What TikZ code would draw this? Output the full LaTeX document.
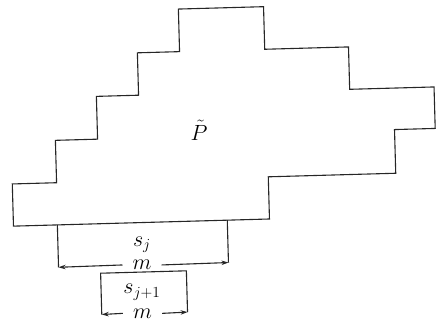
\RequirePackage{fix-cm}
\documentclass[tikz,border=0pt]{standalone}
\usepackage{amsmath}
\usepackage{tikz}
\usetikzlibrary{arrows.meta, calc}

\begin{document}
\begin{tikzpicture}[
  x=1pt, y=-1pt,
  font=\fontsize{22}{26}\selectfont,
  >={Stealth[length=7pt,width=4.5pt]},
  % staircase outline
  outline/.style={draw=black!85, line width=1.1pt, line join=miter},
  % measuring brackets
  bracket/.style={draw=black!85, line width=1.1pt},
  dimarrow/.style={bracket, ->},
  % labels
  lbl/.style={inner sep=1pt},
  widthlbl/.style={inner xsep=10pt, inner ysep=1pt}
]
\useasboundingbox (0,0) rectangle (436,325);

\begin{scope}[rotate around={1.6:(218,160)}]
% === POLYGON ===
\draw[outline] (182.6,8) -- (267.8,8) -- (267.8,50.6) -- (351.6,50.6)
  -- (351.6,93) -- (436,93) -- (436,134.5) -- (395.3,134.5)
  -- (395.3,178.2) -- (267.8,178.2) -- (267.8,220.4) -- (11.7,220.4)
  -- (11.7,178.2) -- (56,178.2) -- (56,135.8) -- (98.2,135.8)
  -- (98.2,93) -- (140.4,93) -- (140.4,50.6) -- (182.6,50.6) -- cycle;
\node[lbl] (ptilde) at (199.8,129.5) {$\tilde{P}$};

% === FIRST BRACKET ===
\coordinate (lt1) at (55.6,220.4);
\coordinate (rt1) at (225.6,220.4);
\coordinate (lb1) at (55.6,262.8);
\coordinate (rb1) at (225.6,262.8);
\node[lbl] (sj) at (139.6,242.9) {$s_j$};
\node[widthlbl] (m1) at (139.2,262.8) {$m$};
\draw[bracket] (lt1) -- (lb1);
\draw[bracket] (rt1) -- (rb1);
\draw[dimarrow] (m1.west) -- (lb1);
\draw[dimarrow] (m1.east) -- (rb1);

% === SECOND BRACKET ===
\coordinate (lt2) at (97.5,269.9);
\coordinate (rt2) at (183.3,269.9);
\coordinate (lb2) at (97.5,311.2);
\coordinate (rb2) at (183.3,311.2);
\node[lbl] (sjj) at (138.3,290) {$s_{j+1}$};
\node[widthlbl] (m2) at (138.3,311.2) {$m$};
\draw[bracket] (lb2) -- (lt2) -- (rt2) -- (rb2);
\draw[dimarrow] (m2.west) -- (lb2);
\draw[dimarrow] (m2.east) -- (rb2);
\end{scope}

\end{tikzpicture}
\end{document}
